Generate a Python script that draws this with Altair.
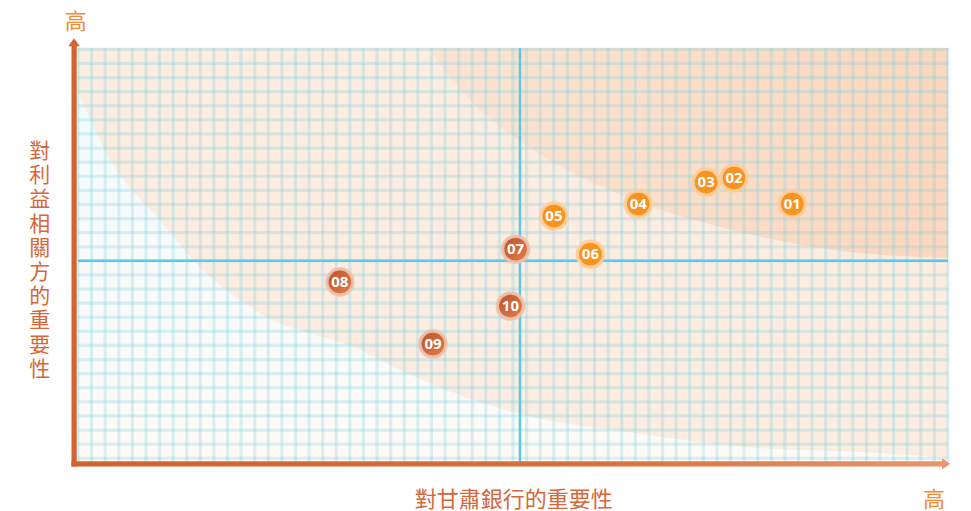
import altair as alt
import pandas as pd

# ---- data (0-100 importance scale) ----
ids = ["01", "02", "03", "04", "05", "06", "07", "08", "09", "10"]
x_vals = [82.1, 75.4, 72.2, 64.4, 54.7, 58.9, 50.3, 30.1, 40.8, 49.7]
y_vals = [62.3, 68.6, 67.6, 62.3, 59.4, 50.2, 51.4, 43.5, 28.5, 37.7]
groups = ["high"] * 6 + ["low"] * 4

center_x = 50.8
center_y = 48.6

# background zone boundaries
upper_x = [40.2, 44.7, 52.3, 63.8, 75.3, 86.8, 100.0]
upper_y = [100.0, 88.2, 75.4, 63.3, 56.0, 51.2, 49.3]
lower_x = [0.0, 3.7, 9.4, 13.2, 20.9, 32.4, 37.0, 53.9, 61.5, 76.9, 92.2, 100.0]
lower_y = [89.4, 72.9, 58.5, 48.8, 36.0, 27.1, 22.2, 10.1, 7.7, 3.6, 2.2, 1.0]

grid_x = [k * 100 / 64 for k in range(65)]
grid_y = [0.9 + k * 3.406 for k in range(30)]

x_title = "對甘肅銀行的重要性"
y_title = "對利益相關方的重要性"
high_label = "高"

FONT_CJK = "Noto Sans CJK TC"

xs = alt.Scale(domain=[0, 100], nice=False, zero=False)
ys = alt.Scale(domain=[0, 100], nice=False, zero=False)


def X(f="x"):
    return alt.X(f, type="quantitative", scale=xs, axis=None)


def Y(f="y"):
    return alt.Y(f, type="quantitative", scale=ys, axis=None)


pts = pd.DataFrame({"id": ids, "x": x_vals, "y": y_vals, "g": groups})
# draw order: 03 below 02
order = ["01", "03", "02", "04", "05", "06", "07", "08", "09", "10"]
pts["o"] = pts["id"].map({k: i for i, k in enumerate(order)})
pts = pts.sort_values("o")
high = pts[pts.g == "high"]
low = pts[pts.g == "low"]

# background
base_bg = alt.Chart(pd.DataFrame({"x": [0], "x2": [100], "y": [0], "y2": [100]})).mark_rect(
    fill="#FDECE0"
).encode(x=X(), x2="x2", y=Y(), y2="y2")

upper_area = alt.Chart(pd.DataFrame({"x": upper_x, "y": upper_y, "y2": [100] * len(upper_x)})).mark_area(
    interpolate="monotone",
    fill={"gradient": "linear", "x1": 0, "y1": 0, "x2": 1, "y2": 0,
          "stops": [{"offset": 0, "color": "#FCE4D2"}, {"offset": 1, "color": "#FBD7BE"}]},
).encode(x=X(), y=Y(), y2="y2")

lower_area = alt.Chart(pd.DataFrame({"x": lower_x, "y": lower_y, "y2": [0] * len(lower_x)})).mark_area(
    interpolate="monotone",
    fill={"gradient": "linear", "x1": 0, "y1": 0, "x2": 0, "y2": 1,
          "stops": [{"offset": 0, "color": "#F2FBFC"}, {"offset": 1, "color": "#FFFAF6"}]},
).encode(x=X(), y=Y(), y2="y2")

grid_v = alt.Chart(pd.DataFrame({"x": grid_x})).mark_rule(
    color="#7FCFE2", strokeWidth=3.2, opacity=0.28
).encode(x=X())
grid_h = alt.Chart(pd.DataFrame({"y": grid_y})).mark_rule(
    color="#7FCFE2", strokeWidth=3.2, opacity=0.28
).encode(y=Y())

center_v = alt.Chart(pd.DataFrame({"x": [center_x]})).mark_rule(
    color="#5CC8EA", strokeWidth=2.5
).encode(x=X())
center_h = alt.Chart(pd.DataFrame({"y": [center_y]})).mark_rule(
    color="#5CC8EA", strokeWidth=2.5
).encode(y=Y())

# axes (thick bars with arrow heads)
x_axis = alt.Chart(pd.DataFrame({"x": [-0.75], "x2": [99.6], "y": [-1.1], "y2": [0.2]})).mark_rect(
    fill={"gradient": "linear", "x1": 0, "y1": 0, "x2": 1, "y2": 0,
          "stops": [{"offset": 0, "color": "#D2622E"}, {"offset": 0.6, "color": "#D8713F"},
                    {"offset": 1, "color": "#EA956C"}]},
).encode(x=X(), x2="x2", y=Y(), y2="y2")
y_axis = alt.Chart(pd.DataFrame({"x": [-0.75], "x2": [-0.15], "y": [-1.1], "y2": [100.6]})).mark_rect(
    fill="#D2622E"
).encode(x=X(), x2="x2", y=Y(), y2="y2")

arrow_up = alt.Chart(pd.DataFrame({"x": [-0.45], "y": [101.3]})).mark_point(
    shape="M-1,0.65L0,-0.75L1,0.65Z", filled=True, size=130, color="#D2622E", opacity=1
).encode(x=X(), y=Y())
arrow_right = alt.Chart(pd.DataFrame({"x": [99.75], "y": [-0.45]})).mark_point(
    shape="M-0.65,-1L0.75,0L-0.65,1Z", filled=True, size=130, color="#EA956C", opacity=1
).encode(x=X(), y=Y())

# points
dots_high = alt.Chart(high).mark_circle(
    size=680, fill="#F7931E", fillOpacity=1, stroke="#FBCF9F", strokeWidth=3.5, strokeOpacity=0.9
).encode(x=X(), y=Y())
dots_low = alt.Chart(low).mark_circle(
    size=680,
    fill={"gradient": "linear", "x1": 0, "y1": 0, "x2": 1, "y2": 1,
          "stops": [{"offset": 0, "color": "#C24E28"}, {"offset": 1, "color": "#DE814F"}]},
    fillOpacity=1, stroke="#EEC3AD", strokeWidth=3.5, strokeOpacity=0.9
).encode(x=X(), y=Y())
labels = alt.Chart(pts).mark_text(
    font="Noto Sans", fontSize=15, fontWeight="bold", color="white", baseline="middle", align="center"
).encode(x=X(), y=Y(), text="id:N")

# titles
xt = alt.Chart(pd.DataFrame({"x": [50.1], "y": [-9.2], "t": [x_title]})).mark_text(
    font=FONT_CJK, fontSize=22, color="#D6673A", baseline="middle", align="center"
).encode(x=X(), y=Y(), text="t:N")
yt = alt.Chart(pd.DataFrame({"x": [-4.4], "y": [74.9], "t": ["\n".join(y_title)]})).mark_text(
    font=FONT_CJK, fontSize=21, color="#D6673A", baseline="middle", align="center",
    lineBreak="\n", lineHeight=24.2
).encode(x=X(), y=Y(), text="t:N")
hi = alt.Chart(pd.DataFrame({"x": [-0.25, 98.4], "y": [106.3, -9.2], "t": [high_label, high_label]})).mark_text(
    font=FONT_CJK, fontSize=22, color="#F08C3A", baseline="middle", align="center"
).encode(x=X(), y=Y(), text="t:N")

chart = alt.layer(
    base_bg, upper_area, lower_area, grid_v, grid_h, center_v, center_h,
    x_axis, y_axis, arrow_up, arrow_right,
    dots_high, dots_low, labels, xt, yt, hi
).properties(
    width=870, height=414,
    autosize=alt.AutoSizeParams(type="none"),
    padding={"left": 70, "top": 40, "right": 14, "bottom": 58},
).configure_view(strokeWidth=0)

chart.save("out.html", embed_options={"renderer": "svg", "actions": False})
